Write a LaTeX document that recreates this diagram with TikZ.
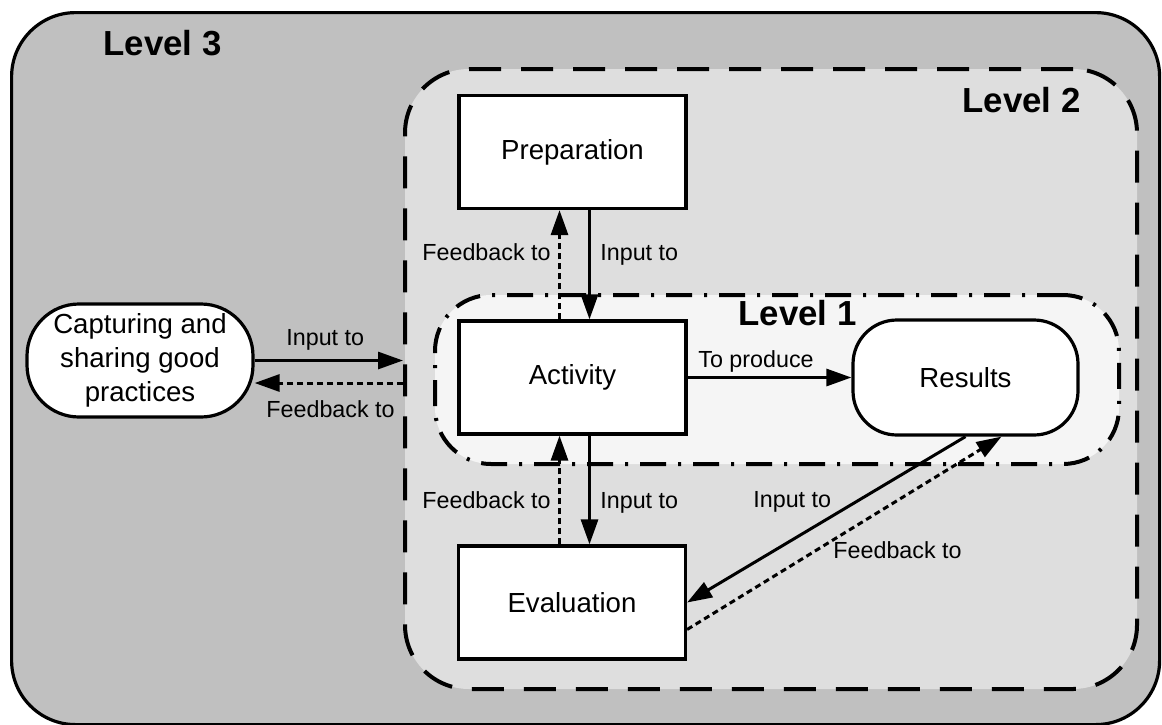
\documentclass[tikz,border=0pt]{standalone}
\usepackage{fontspec}
\setmainfont{Liberation Sans}
\usetikzlibrary{arrows.meta,calc}
\definecolor{levelthree}{RGB}{192,192,192}
\definecolor{leveltwo}{RGB}{222,222,222}
\definecolor{levelone}{RGB}{245,245,245}
\tikzset{
  region/.style={draw=black, inner sep=0pt, anchor=north west},
  stepbox/.style={draw=black, fill=white, line width=1.6pt, inner sep=0pt,
    minimum width=113.5pt, minimum height=56.5pt, font=\fontsize{13.8pt}{17pt}\selectfont},
  roundbox/.style={stepbox, align=center},
  lvl/.style={font=\bfseries\fontsize{17.4pt}{20pt}\selectfont, inner sep=0pt},
  lbl/.style={font=\fontsize{11.65pt}{14pt}\selectfont, inner sep=0pt},
  tip/.style={-{Triangle[length=12.5pt,width=8.5pt]}},
  flow/.style={tip, line width=1.5pt},
  back/.style={tip, line width=1.5pt, dash pattern=on 3pt off 2pt},
}
\begin{document}
\begin{tikzpicture}[x=0.5pt,y=-0.5pt]
\useasboundingbox (0,0) rectangle (1162,724);
% nested levels
\node[region, line width=1.6pt, fill=levelthree, rounded corners=32pt,
  minimum width=574pt, minimum height=356pt] (l3) at (10,11) {};
\node[region, line width=2pt, fill=leveltwo, rounded corners=32pt,
  dash pattern=on 16pt off 10pt, minimum width=366pt, minimum height=310pt] (l2) at (403,67) {};
\node[region, line width=2pt, fill=levelone, rounded corners=28pt,
  dash pattern=on 13pt off 6pt on 1.5pt off 6pt, minimum width=342pt, minimum height=84.5pt] (l1) at (433,293) {};
\node[lvl, anchor=base west] (t3) at (103,55) {Level 3};
\node[lvl, anchor=base west] (t2) at (962,112) {Level 2};
\node[lvl, anchor=base west] (t1) at (738,325) {Level 1};
% process boxes
\node[stepbox] (prep) at (572.5,152) {Preparation};
\node[stepbox] (act) at (572.5,377.5) {Activity};
\node[stepbox] (eva) at (572,602.5) {Evaluation};
\node[roundbox, rounded corners=22pt, minimum width=112.5pt, minimum height=57.5pt] (res) at (965.5,377.5) {Results};
\node[roundbox, rounded corners=26pt, minimum width=113pt, minimum height=56.5pt] (cap) at (140,360.5) {Capturing and\\sharing good\\practices};
% helper points
\coordinate (pa) at ($(prep.south)+(17,0)$);
\coordinate (pf) at ($(prep.south)+(-13,0)$);
\coordinate (aa) at ($(act.north)+(17,0)$);
\coordinate (af) at ($(act.north)+(-13,0)$);
\coordinate (ba) at ($(act.south)+(17,0)$);
\coordinate (bf) at ($(act.south)+(-13,0)$);
\coordinate (ea) at ($(eva.north)+(17.5,0)$);
\coordinate (ef) at ($(eva.north)+(-12.5,0)$);
\coordinate (cin) at (cap.east -| l2.west);
\coordinate (cfb) at ($(cap.east)+(0,22.5)$);
\coordinate (lfb) at (cfb -| l2.west);
\coordinate (rf) at ($(res.south)+(36,0)$);
\coordinate (ed) at ($(eva.east)+(0,27)$);
% connectors
\draw[flow] (pa) -- (aa);
\draw[back] (af) -- (pf);
\draw[flow] (ba) -- (ea);
\draw[back] (ef) -- (bf);
\draw[flow] (cap.east) -- (cin);
\draw[back] (lfb) -- (cfb);
\draw[flow] (act.east) -- (res.west);
\draw[flow] (res.south) -- (eva.east);
\draw[back] (ed) -- (rf);
% connector labels
\node[lbl, anchor=base east] (l_pf) at (551,260) {Feedback to};
\node[lbl, anchor=base west] (l_pa) at (600,260) {Input to};
\node[lbl, anchor=base east] (l_ef) at (551,508) {Feedback to};
\node[lbl, anchor=base west] (l_ea) at (600,508) {Input to};
\node[lbl, anchor=base west] (l_ci) at (286,345) {Input to};
\node[lbl, anchor=base west] (l_cf) at (266,417) {Feedback to};
\node[lbl, anchor=base west] (l_tp) at (698,367) {To produce};
\node[lbl, anchor=base west] (l_ri) at (753,507) {Input to};
\node[lbl, anchor=base west] (l_rf) at (833,558) {Feedback to};
\end{tikzpicture}
\end{document}
